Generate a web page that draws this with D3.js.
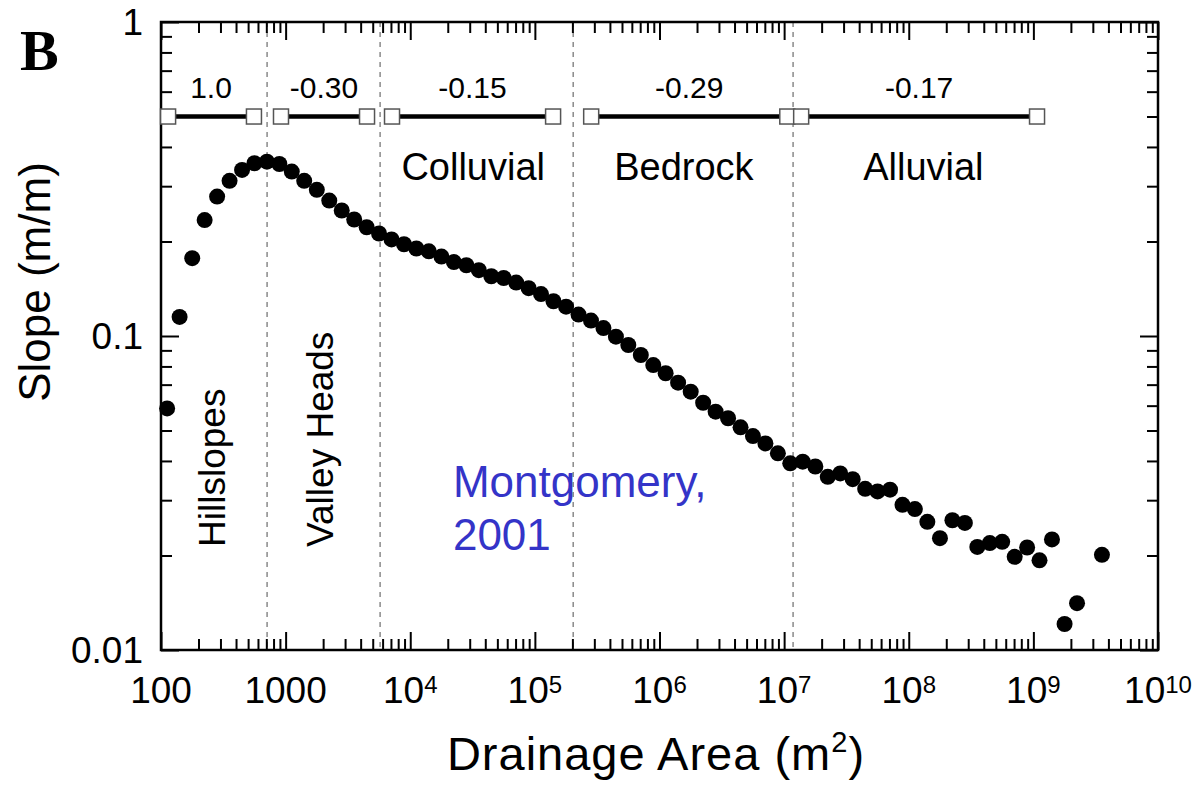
<!DOCTYPE html>
<html lang="en">
<head>
<meta charset="UTF-8" />
<title>Slope vs Drainage Area</title>
<script src="https://d3js.org/d3.v7.min.js"></script>
<style>
  body { margin: 0; background: #fff; }
  svg { display: block; font-family: "Liberation Sans", Arial, Helvetica, sans-serif; }
</style>
</head>
<body>
<svg width="1201" height="785"></svg>
<script>
  // binned slope-area data
  const area = [
    1.12e2, 1.41e2, 1.78e2, 2.24e2, 2.82e2, 3.55e2, 4.47e2, 5.62e2, 7.08e2, 8.91e2,
    1.12e3, 1.41e3, 1.78e3, 2.24e3, 2.82e3, 3.55e3, 4.47e3, 5.62e3, 7.08e3, 8.91e3,
    1.12e4, 1.41e4, 1.78e4, 2.24e4, 2.82e4, 3.55e4, 4.47e4, 5.62e4, 7.08e4, 8.91e4,
    1.12e5, 1.41e5, 1.78e5, 2.24e5, 2.82e5, 3.55e5, 4.47e5, 5.62e5, 7.08e5, 8.91e5,
    1.12e6, 1.41e6, 1.78e6, 2.24e6, 2.82e6, 3.55e6, 4.47e6, 5.62e6, 7.08e6, 8.91e6,
    1.12e7, 1.41e7, 1.78e7, 2.24e7, 2.82e7, 3.55e7, 4.47e7, 5.62e7, 7.08e7, 8.91e7,
    1.12e8, 1.41e8, 1.78e8, 2.24e8, 2.82e8, 3.55e8, 4.47e8, 5.62e8, 7.08e8, 8.91e8,
    1.12e9, 1.41e9, 1.78e9, 2.24e9, 3.55e9
  ];
  const slope = [
    0.0588, 0.115, 0.177, 0.234, 0.278, 0.312, 0.338, 0.355, 0.359, 0.353,
    0.334, 0.312, 0.292, 0.270, 0.251, 0.235, 0.222, 0.212, 0.203, 0.196,
    0.190, 0.186, 0.179, 0.172, 0.168, 0.162, 0.155, 0.153, 0.148, 0.142,
    0.136, 0.129, 0.124, 0.117, 0.112, 0.106, 0.0995, 0.0936, 0.0870, 0.0808,
    0.0761, 0.0710, 0.0665, 0.0613, 0.0574, 0.0547, 0.0512, 0.0480, 0.0455, 0.0423,
    0.0393, 0.0398, 0.0384, 0.0356, 0.0365, 0.0350, 0.0326, 0.0320, 0.0324, 0.0290,
    0.0281, 0.0256, 0.0227, 0.0259, 0.0254, 0.0213, 0.0219, 0.0221, 0.0198, 0.0212,
    0.0193, 0.0225, 0.0121, 0.0141, 0.0201
  ];

  // fitted segments (exponents) drawn at the top
  const segStart = [114, 918, 7140, 2.83e5, 1.37e7];
  const segEnd = [557, 4500, 1.40e5, 1.06e7, 1.07e9];
  const segLabel = ["1.0", "-0.30", "-0.15", "-0.29", "-0.17"];
  const segLevel = 0.5;
  const segLabelLevel = 0.573;

  // process domain boundaries (dashed)
  const boundaries = [710, 5730, 2.03e5, 1.18e7];

  const regionNames = ["Colluvial", "Bedrock", "Alluvial"];
  const regionAreas = [3.2e4, 1.57e6, 1.31e8];
  const regionLevel = 0.314;

  const vertNames = ["Hillslopes", "Valley Heads"];
  const vertAreas = [326, 2400];
  const vertLevel = 0.0213;

  const xMajor = [1e2, 1e3, 1e4, 1e5, 1e6, 1e7, 1e8, 1e9, 1e10];
  const xTickLabels = ["100", "1000", "10^4", "10^5", "10^6", "10^7", "10^8", "10^9", "10^10"];
  const yMajor = [0.01, 0.1, 1];
  const yTickLabels = ["0.01", "0.1", "1"];

  const svg = d3.select("svg");
  const L = 161, R = 1158, T = 22, B = 650;

  const x = d3.scaleLog().domain([1e2, 1e10]).range([L, R]);
  const y = d3.scaleLog().domain([0.01, 1]).range([B, T]);

  const xMinor = [];
  xMajor.slice(0, -1).forEach(d => { for (let k = 2; k <= 9; k++) xMinor.push(d * k); });
  const yMinor = [];
  yMajor.slice(0, -1).forEach(d => { for (let k = 2; k <= 9; k++) yMinor.push(d * k); });

  // dashed boundaries
  svg.append("g")
    .selectAll("line")
    .data(boundaries)
    .join("line")
    .attr("x1", d => x(d)).attr("x2", d => x(d))
    .attr("y1", T).attr("y2", B)
    .attr("stroke", "#8a8a8a")
    .attr("stroke-width", 1.5)
    .attr("stroke-dasharray", "5,5");

  // ticks, all pointing inward
  function tickAxis(axis, vals, size, transform) {
    const g = svg.append("g")
      .attr("transform", transform)
      .call(axis.tickValues(vals).tickSize(size).tickSizeOuter(0).tickFormat(""));
    g.select(".domain").remove();
    g.selectAll(".tick line").attr("stroke", "#000").attr("stroke-width", 2);
  }
  tickAxis(d3.axisBottom(x), xMinor, -11, `translate(0,${B})`);
  tickAxis(d3.axisBottom(x), xMajor, -18, `translate(0,${B})`);
  tickAxis(d3.axisTop(x), xMinor, -11, `translate(0,${T})`);
  tickAxis(d3.axisTop(x), xMajor, -18, `translate(0,${T})`);
  tickAxis(d3.axisLeft(y), yMinor, -11, `translate(${L},0)`);
  tickAxis(d3.axisLeft(y), yMajor, -18, `translate(${L},0)`);
  tickAxis(d3.axisRight(y), yMinor, -11, `translate(${R},0)`);
  tickAxis(d3.axisRight(y), yMajor, -18, `translate(${R},0)`);

  svg.append("rect")
    .attr("x", L).attr("y", T)
    .attr("width", R - L).attr("height", B - T)
    .attr("fill", "none")
    .attr("stroke", "#000")
    .attr("stroke-width", 2.5);

  // x tick labels
  svg.append("g")
    .selectAll("text")
    .data(xMajor)
    .join("text")
    .attr("x", d => x(d))
    .attr("y", B + 53)
    .attr("text-anchor", "middle")
    .attr("font-size", 37)
    .each(function (d, i) {
      const parts = xTickLabels[i].split("^");
      const t = d3.select(this);
      t.append("tspan").text(parts[0]);
      if (parts[1]) t.append("tspan").attr("font-size", 24).attr("dy", -10).text(parts[1]);
    });

  // y tick labels
  svg.append("g")
    .selectAll("text")
    .data(yMajor)
    .join("text")
    .attr("x", L - 18)
    .attr("y", d => y(d))
    .attr("dy", "0.36em")
    .attr("text-anchor", "end")
    .attr("font-size", 37)
    .text((d, i) => yTickLabels[i]);

  // segments
  const seg = svg.append("g");
  seg.selectAll("line")
    .data(segStart)
    .join("line")
    .attr("x1", d => x(d))
    .attr("x2", (d, i) => x(segEnd[i]))
    .attr("y1", y(segLevel)).attr("y2", y(segLevel))
    .attr("stroke", "#000")
    .attr("stroke-width", 4.5);
  seg.selectAll("rect")
    .data(segStart.flatMap((d, i) => [d, segEnd[i]]))
    .join("rect")
    .attr("x", d => x(d) - 7.5)
    .attr("y", y(segLevel) - 7.5)
    .attr("width", 15).attr("height", 15)
    .attr("fill", "#fff")
    .attr("stroke", "#555")
    .attr("stroke-width", 1.5);
  seg.selectAll("text")
    .data(segLabel)
    .join("text")
    .attr("x", (d, i) => (x(segStart[i]) + x(segEnd[i])) / 2)
    .attr("y", y(segLabelLevel))
    .attr("text-anchor", "middle")
    .attr("font-size", 30)
    .text(d => d);

  // region labels
  svg.append("g")
    .selectAll("text")
    .data(regionNames)
    .join("text")
    .attr("x", (d, i) => x(regionAreas[i]))
    .attr("y", y(regionLevel))
    .attr("text-anchor", "middle")
    .attr("font-size", 38)
    .text(d => d);

  svg.append("g")
    .selectAll("text")
    .data(vertNames)
    .join("text")
    .attr("transform", (d, i) => `translate(${x(vertAreas[i])},${y(vertLevel)}) rotate(-90)`)
    .attr("font-size", 37)
    .text(d => d);

  // data points
  svg.append("g")
    .selectAll("circle")
    .data(area)
    .join("circle")
    .attr("cx", d => x(d))
    .attr("cy", (d, i) => y(slope[i]))
    .attr("r", 8)
    .attr("fill", "#000");

  // citation
  svg.append("text")
    .attr("x", x(2.2e4))
    .attr("y", y(0.0307))
    .attr("font-size", 44)
    .attr("fill", "#3434c8")
    .call(t => {
      t.append("tspan").text("Montgomery,");
      t.append("tspan").attr("x", x(2.2e4)).attr("dy", 53).text("2001");
    });

  // axis titles
  const xt = svg.append("text")
    .attr("x", 656)
    .attr("y", 770)
    .attr("text-anchor", "middle")
    .attr("font-size", 47)
    .attr("letter-spacing", 1);
  xt.append("tspan").text("Drainage Area (m");
  xt.append("tspan").attr("font-size", 29).attr("dy", -18).text("2");
  xt.append("tspan").attr("dy", 18).text(")");

  svg.append("text")
    .attr("transform", "translate(50,282) rotate(-90)")
    .attr("text-anchor", "middle")
    .attr("font-size", 44)
    .text("Slope (m/m)");

  svg.append("text")
    .attr("x", 20).attr("y", 70)
    .attr("font-family", "'Liberation Serif', 'Times New Roman', serif")
    .attr("font-weight", "bold")
    .attr("font-size", 58)
    .text("B");
</script>
</body>
</html>
